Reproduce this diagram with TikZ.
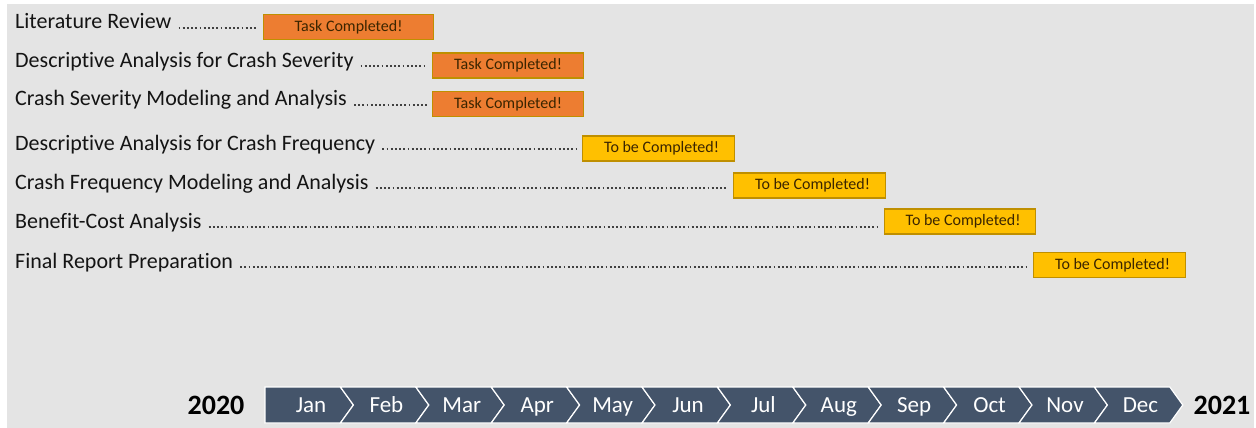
\documentclass[tikz,border=0pt]{standalone}
\usepackage{fontspec}
\setmainfont[Ligatures=NoCommon]{Carlito}
\usetikzlibrary{positioning}
\definecolor{pagegray}{HTML}{E4E4E4}
\definecolor{orangebar}{HTML}{ED7D31}
\definecolor{yellowbar}{HTML}{FFC000}
\definecolor{barline}{HTML}{BF8F00}
\definecolor{bartext}{HTML}{3B2500}
\definecolor{band}{HTML}{44546A}

\begin{document}
\begin{tikzpicture}[x=1pt,y=-1pt,
	task/.style={anchor=base west,inner sep=0pt,text=black!92,font=\fontsize{22}{24}\selectfont},
	bar/.style={anchor=west,draw=barline,line width=1.2pt,minimum height=25pt,inner sep=0pt,text=bartext,font=\fontsize{16}{18}\selectfont},
	done/.style={bar,fill=orangebar},
	todo/.style={bar,fill=yellowbar},
	leader/.style={draw=black!75,line width=1.8pt,dash pattern=on 1.8pt off 2.4pt},
	month/.style={anchor=base,text=white,font=\fontsize{23}{25}\selectfont},
	year/.style={anchor=base,text=black,font=\bfseries\fontsize{28}{30}\selectfont}]
	\useasboundingbox (0,0) rectangle (1256,428);
	\fill[white] (0,0) rectangle (1256,428);
	\fill[pagegray] (7,4) rectangle (1254,428);

	\node[task] (t1) at (15,29) {Literature Review};
	\node[task] (t2) at (15,67) {Descriptive Analysis for Crash Severity};
	\node[task] (t3) at (15,106) {Crash Severity Modeling and Analysis};
	\node[task] (t4) at (15,150) {Descriptive Analysis for Crash Frequency};
	\node[task] (t5) at (15,189) {Crash Frequency Modeling and Analysis};
	\node[task] (t6) at (15,228) {Benefit-Cost Analysis};
	\node[task] (t7) at (15,268) {Final Report Preparation};

	\node[done,minimum width=170pt] (b1) at (263,27) {Task Completed!};
	\node[done,minimum width=151pt] (b2) at (432,65.5) {Task Completed!};
	\node[done,minimum width=151pt] (b3) at (432,104) {Task Completed!};
	\node[todo,minimum width=152pt] (b4) at (582,148.5) {\hspace{6pt}To be Completed!};
	\node[todo,minimum width=152pt] (b5) at (733,185.5) {\hspace{6pt}To be Completed!};
	\node[todo,minimum width=151pt] (b6) at (884,221.5) {\hspace{6pt}To be Completed!};
	\node[todo,minimum width=152pt] (b7) at (1033,265) {\hspace{6pt}To be Completed!};

	\foreach \i in {1,...,7}
		\draw[leader] ([xshift=7pt,yshift=1pt]t\i.base east) -- ([xshift=-5pt,yshift=1pt]t\i.base -| b\i.west);

	% time line
	\foreach \m [count=\i from 0] in {Jan,Feb,Mar,Apr,May,Jun,Jul,Aug,Sep,Oct,Nov,Dec} {
		\pgfmathsetmacro\a{265+75.4*\i}
		\pgfmathsetmacro\notch{\i==0 ? 0 : 13}
		\filldraw[fill=band,draw=white,line width=1.2pt,line join=miter]
			(\a,387) -- (\a+75.4,387) -- (\a+88.4,405) -- (\a+75.4,423) -- (\a,423) -- (\a+\notch,405) -- cycle;
		\node[month] (m\i) at (\a+46,412.5) {\m};
	}
	\node[year] (y0) at (216,414.5) {2020};
	\node[year] (y1) at (1222,414.5) {2021};
\end{tikzpicture}
\end{document}
